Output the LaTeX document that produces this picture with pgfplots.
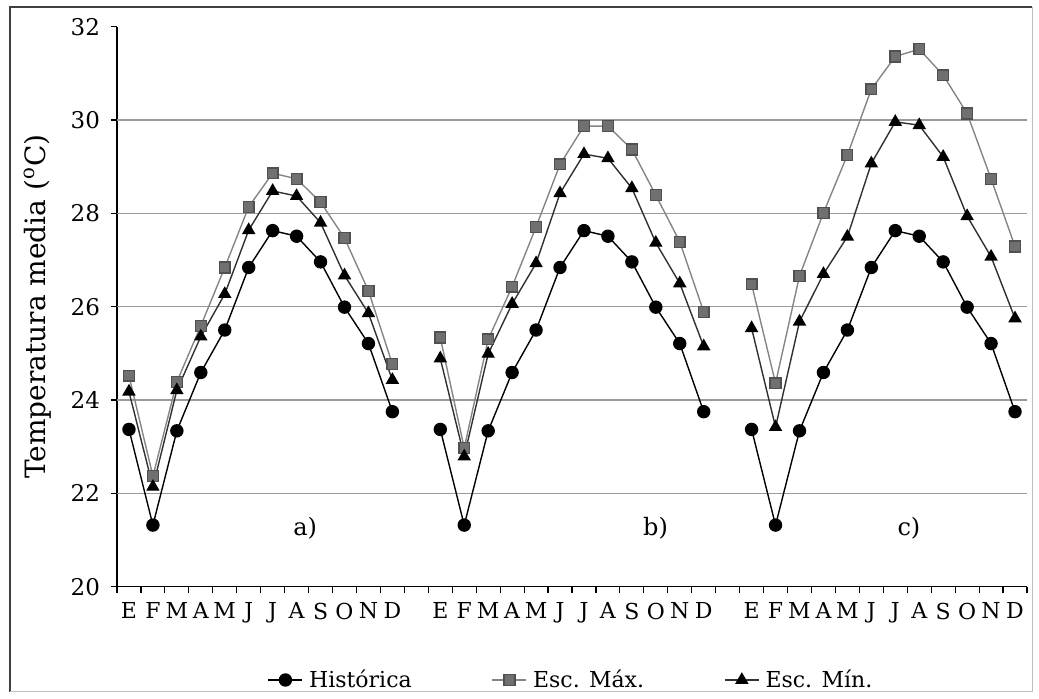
\documentclass[border=0pt]{standalone}
\usepackage{pgfplots}
\pgfplotsset{compat=1.18}
\usepackage{fontspec}
\setmainfont{DejaVu Serif}
\definecolor{maxfill}{HTML}{707070}
\definecolor{maxdraw}{HTML}{505050}
\definecolor{maxline}{HTML}{858585}
\definecolor{minline}{HTML}{303030}
\definecolor{gridc}{HTML}{9A9A9A}
\begin{document}
\begin{tikzpicture}
\path (-58.5pt,-55.65pt) rectangle (461pt,293.35pt);
\draw[line width=0.9pt, black!75] (-53.5pt,-52.65pt) -- (-53.5pt,289.85pt) -- (457.5pt,289.85pt);
\draw[line width=0.5pt, black!25] (457.5pt,289.85pt) -- (457.5pt,-52.65pt) -- (-53.5pt,-52.65pt);
\begin{axis}[
  at={(0,0)}, anchor=south west,
  scale only axis, width=455pt, height=280pt,
  xmin=-0.5, xmax=37.5, ymin=20, ymax=32,
  axis x line*=bottom, axis y line*=left,
  axis line style={black, line width=0.7pt},
  ytick={20,22,...,32},
  extra y ticks={22,24,26,28,30},
  extra y tick labels={},
  extra y tick style={grid=major, major tick length=0pt},
  grid style={gridc, line width=0.6pt},
  xtick={0,1,...,11,13,14,...,24,26,27,...,37},
  xticklabels={E,F,M,A,M,J,J,A,S,O,N,D,E,F,M,A,M,J,J,A,S,O,N,D,E,F,M,A,M,J,J,A,S,O,N,D},
  minor xtick={-0.5,0.5,...,37.5},
  xtick style={draw=none},
  minor tick length=3pt,
  minor x tick style={black, line width=0.6pt, draw=black},
  ytick style={black, line width=0.6pt},
  major tick length=3pt,
  tick align=outside,
  yticklabel style={font=\fontsize{11.5}{13}\selectfont, /pgf/number format/assume math mode=true},
  xticklabel style={font=\fontsize{11}{13}\selectfont, yshift=-0.5pt},
  xticklabel shift=1pt,
  yticklabel shift=2pt,
  ylabel={Temperatura media (\textsuperscript{o}C)},
  ylabel style={font=\fontsize{14}{16}\selectfont, yshift=-4pt},
  legend columns=3,
  legend style={at={(0.5,-46.65pt)}, anchor=center, draw=none, fill=none,
    font=\fontsize{11}{13}\selectfont,
    /tikz/every even column/.append style={column sep=38pt},
    /tikz/every odd column/.append style={column sep=1pt}},
  legend cell align=left,
  legend image code/.code={\draw[mark repeat=2,mark phase=2] plot coordinates {(0pt,0pt)(8.5pt,0pt)(17pt,0pt)};},
  every axis plot/.append style={line width=0.7pt},
]
% Historica
\addplot[black, mark=*, mark size=3pt] coordinates {(0,23.37)(1,21.32)(2,23.34)(3,24.59)(4,25.50)(5,26.84)(6,27.63)(7,27.51)(8,26.96)(9,25.99)(10,25.21)(11,23.75)};
\addlegendentry{Histórica}
% Esc Max
\addplot[maxline, mark=square*, mark size=2.7pt, mark options={fill=maxfill, draw=maxdraw}] coordinates {(0,24.52)(1,22.37)(2,24.39)(3,25.59)(4,26.84)(5,28.14)(6,28.86)(7,28.74)(8,28.24)(9,27.47)(10,26.34)(11,24.77)};
\addlegendentry{Esc. Máx.}
% Esc Min
\addplot[minline, mark=triangle*, mark size=3.2pt, mark options={fill=black, draw=black}] coordinates {(0,24.18)(1,22.14)(2,24.21)(3,25.36)(4,26.27)(5,27.64)(6,28.48)(7,28.37)(8,27.80)(9,26.67)(10,25.86)(11,24.43)};
\addlegendentry{Esc. Mín.}
% panel b
\addplot[forget plot, maxline, mark=square*, mark size=2.7pt, mark options={fill=maxfill, draw=maxdraw}] coordinates {(13,25.34)(14,22.97)(15,25.30)(16,26.43)(17,27.71)(18,29.05)(19,29.87)(20,29.87)(21,29.37)(22,28.39)(23,27.39)(24,25.89)};
\addplot[forget plot, minline, mark=triangle*, mark size=3.2pt, mark options={fill=black, draw=black}] coordinates {(13,24.89)(14,22.79)(15,24.99)(16,26.06)(17,26.93)(18,28.43)(19,29.27)(20,29.18)(21,28.54)(22,27.37)(23,26.50)(24,25.15)};
\addplot[forget plot, black, mark=*, mark size=3pt] coordinates {(13,23.37)(14,21.32)(15,23.34)(16,24.59)(17,25.50)(18,26.84)(19,27.63)(20,27.51)(21,26.96)(22,25.99)(23,25.21)(24,23.75)};
% panel c
\addplot[forget plot, maxline, mark=square*, mark size=2.7pt, mark options={fill=maxfill, draw=maxdraw}] coordinates {(26,26.48)(27,24.36)(28,26.66)(29,28.01)(30,29.25)(31,30.66)(32,31.36)(33,31.52)(34,30.96)(35,30.14)(36,28.74)(37,27.29)};
\addplot[forget plot, minline, mark=triangle*, mark size=3.2pt, mark options={fill=black, draw=black}] coordinates {(26,25.54)(27,23.42)(28,25.68)(29,26.70)(30,27.50)(31,29.07)(32,29.96)(33,29.89)(34,29.21)(35,27.94)(36,27.07)(37,25.75)};
\addplot[forget plot, black, mark=*, mark size=3pt] coordinates {(26,23.37)(27,21.32)(28,23.34)(29,24.59)(30,25.50)(31,26.84)(32,27.63)(33,27.51)(34,26.96)(35,25.99)(36,25.21)(37,23.75)};
\node[font=\fontsize{12}{14}\selectfont] at (axis cs:7.36,21.26) {a)};
\node[font=\fontsize{12}{14}\selectfont] at (axis cs:21.99,21.26) {b)};
\node[font=\fontsize{12}{14}\selectfont] at (axis cs:32.57,21.26) {c)};
\end{axis}
\end{tikzpicture}
\end{document}
